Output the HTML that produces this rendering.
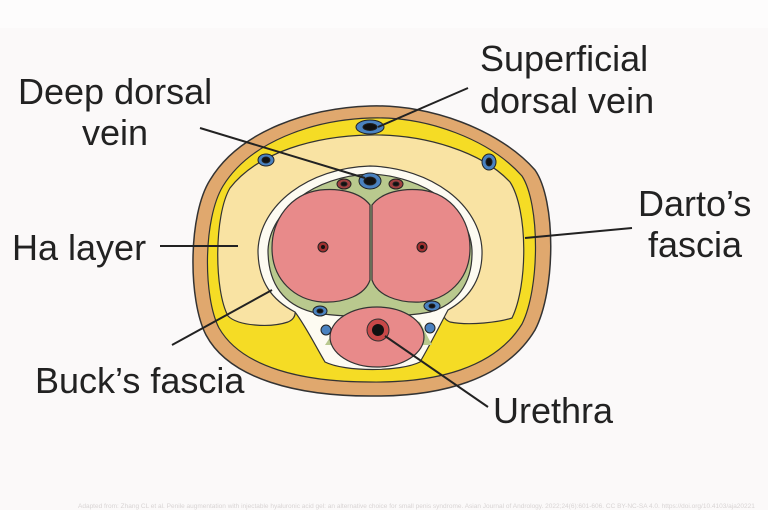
<!DOCTYPE html>
<html><head><meta charset="utf-8"><style>
html,body{margin:0;padding:0;background:#fbf9f9;}
svg{display:block}
text{font-family:"Liberation Sans",sans-serif;fill:#222;}
</style></head><body>
<svg width="768" height="510" viewBox="0 0 768 510">
<rect width="768" height="510" fill="#fbf9f9"/>
<rect width="768" height="28" fill="#fdfcfc"/>
<path d="M370,106 C430,104 500,130 535,170 C556,200 556,290 535,330 C505,380 440,397 370,396 C300,396 230,380 206,335 C188,300 188,215 210,180 C240,130 310,108 370,106 Z" fill="#e0a86e" stroke="#333" stroke-width="1.5"/>
<path d="M370,118 C428,116 490,140 522,176 C540,204 540,288 522,324 C495,368 436,383 370,382 C304,382 242,368 219,328 C203,297 203,219 223,186 C250,142 312,120 370,118 Z" fill="#f5dc25" stroke="#333" stroke-width="1.2"/>
<path d="M370,135 C425,134 482,152 510,182 C528,210 528,285 512,318 C500,322 470,326 450,322 C440,318 440,305 455,300 C470,290 480,270 478,250 C476,205 430,175 370,172 C310,175 265,205 262,250 C262,275 272,292 285,300 C298,306 298,318 288,322 C270,328 238,326 228,316 C214,290 214,215 230,188 C258,152 315,136 370,135 Z" fill="#f9e3a3" stroke="#333" stroke-width="1.2"/>
<path d="M370,166 C432,168 480,205 482,250 C483,282 466,300 448,310 C440,325 430,345 420,362 C400,372 345,372 325,362 C315,345 305,325 295,312 C272,300 258,282 258,250 C260,205 308,168 370,166 Z" fill="#fdfbf2" stroke="#333" stroke-width="1.2"/>
<path d="M370,174 C425,176 470,210 472,250 C473,285 455,305 430,312 C400,318 340,318 312,312 C285,305 268,285 268,250 C270,210 315,176 370,174 Z" fill="#b9c98e" stroke="#333" stroke-width="1.2"/>
<path d="M340,322 C360,312 395,312 420,322 L432,345 L325,345 Z" fill="#b9c98e"/>
<path d="M370,205 C360,192 340,188 320,190 C290,194 272,220 272,248 C272,280 295,300 322,302 C345,303 365,295 370,280 Z" fill="#e88a8a" stroke="#333" stroke-width="1.2"/>
<path d="M372,205 C382,192 402,188 422,190 C452,194 470,220 470,248 C470,280 447,300 420,302 C397,303 377,295 372,280 Z" fill="#e88a8a" stroke="#333" stroke-width="1.2"/>
<circle cx="323" cy="247" r="5" fill="#a03030" stroke="#222"/><circle cx="323" cy="247" r="2" fill="#111"/>
<circle cx="422" cy="247" r="5" fill="#a03030" stroke="#222"/><circle cx="422" cy="247" r="2" fill="#111"/>
<ellipse cx="377" cy="337" rx="47" ry="30" fill="#e88a8a" stroke="#333" stroke-width="1.2"/>
<circle cx="378" cy="330" r="11" fill="#c84848" stroke="#333"/><circle cx="378" cy="330" r="6" fill="#111"/>
<g stroke="#222" stroke-width="1">
<ellipse cx="370" cy="127" rx="14" ry="7" fill="#4a82c0"/><ellipse cx="370" cy="127" rx="7" ry="3.5" fill="#111"/>
<ellipse cx="266" cy="160" rx="8" ry="6" fill="#4a82c0"/><ellipse cx="266" cy="160" rx="4" ry="3" fill="#111"/>
<ellipse cx="489" cy="162" rx="7" ry="8" fill="#4a82c0"/><ellipse cx="489" cy="162" rx="3" ry="4" fill="#111"/>
<ellipse cx="370" cy="181" rx="11" ry="8" fill="#4a82c0"/><ellipse cx="370" cy="181" rx="6" ry="4" fill="#111"/>
<ellipse cx="344" cy="184" rx="7" ry="5" fill="#a04040"/><ellipse cx="344" cy="184" rx="3" ry="2" fill="#111"/>
<ellipse cx="396" cy="184" rx="7" ry="5" fill="#a04040"/><ellipse cx="396" cy="184" rx="3" ry="2" fill="#111"/>
<ellipse cx="320" cy="311" rx="7" ry="5" fill="#4a82c0"/><ellipse cx="320" cy="311" rx="3" ry="2" fill="#111"/>
<ellipse cx="432" cy="306" rx="8" ry="5" fill="#4a82c0"/><ellipse cx="432" cy="306" rx="3" ry="2" fill="#111"/>
<ellipse cx="326" cy="330" rx="5" ry="5" fill="#4a82c0"/><ellipse cx="430" cy="328" rx="5" ry="5" fill="#4a82c0"/>
</g>
<g stroke="#222" stroke-width="2">
<line x1="468" y1="88" x2="378" y2="127"/>
<line x1="200" y1="128" x2="365" y2="178"/>
<line x1="160" y1="246" x2="238" y2="246"/>
<line x1="632" y1="228" x2="525" y2="238"/>
<line x1="172" y1="345" x2="272" y2="290"/>
<line x1="488" y1="407" x2="385" y2="336"/>
</g>
<g font-size="36">
<text x="480" y="71">Superficial</text>
<text x="480" y="113">dorsal vein</text>
<text x="18" y="104">Deep dorsal</text>
<text x="82" y="145">vein</text>
<text x="12" y="260">Ha layer</text>
<text x="638" y="216">Darto’s</text>
<text x="648" y="257">fascia</text>
<text x="35" y="393">Buck’s fascia</text>
<text x="493" y="423">Urethra</text>
</g>
<text x="78" y="508" font-size="6.5" style="fill:#d8d4d4">Adapted from: Zhang CL et al. Penile augmentation with injectable hyaluronic acid gel: an alternative choice for small penis syndrome. Asian Journal of Andrology. 2022;24(6):601-606. CC BY-NC-SA 4.0. https://doi.org/10.4103/aja20221</text>
</svg>
</body></html>
